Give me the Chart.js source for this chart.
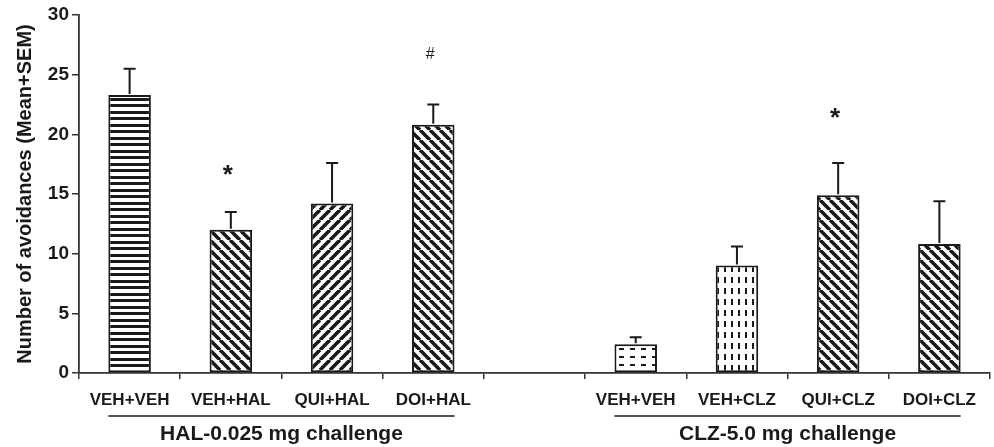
<!DOCTYPE html>
<html>
<head>
<meta charset="utf-8">
<script src="https://cdn.jsdelivr.net/npm/chart.js@4.4.1/dist/chart.umd.min.js"></script>
<style>
  body { margin: 0; background: #fff; }
  #wrap { width: 994px; height: 447px; }
</style>
</head>
<body>
<div id="wrap"><canvas id="chart"></canvas></div>
<script>
// values
var labels = ['VEH+VEH', 'VEH+HAL', 'QUI+HAL', 'DOI+HAL', '', 'VEH+VEH', 'VEH+CLZ', 'QUI+CLZ', 'DOI+CLZ'];
var means  = [23.3, 12.0, 14.2, 20.8, null, 2.4, 9.0, 14.9, 10.8];
var sem    = [2.2, 1.5, 3.4, 1.7, null, 0.6, 1.6, 2.7, 3.6];
var marks  = ['', '*', '', '#', '', '', '', '*', ''];
var markAt = [null, 16.9, null, 26.7, null, null, null, 21.7, null];
var fills  = ['hlines', 'back', 'fwd', 'back', null, 'hdash', 'vdash', 'back', 'back'];
var groupNames = ['HAL-0.025 mg challenge', 'CLZ-5.0 mg challenge'];
var groupFirst = [0, 5];
var groupLast  = [3, 8];

var INK = '#1a1a1a';
var FONT = "'Liberation Sans', Arial, Helvetica, sans-serif";

function makePattern(kind) {
  var t = document.createElement('canvas');
  var g;
  if (kind == 'hlines') {
    t.width = 8; t.height = 13;
    g = t.getContext('2d');
    g.fillStyle = '#fff'; g.fillRect(0, 0, t.width, t.height);
    g.fillStyle = INK; g.fillRect(0, 0, 8, 3); g.fillRect(0, 7, 8, 3);
  } else if (kind == 'back' || kind == 'fwd') {
    t.width = 10; t.height = 10;
    g = t.getContext('2d');
    g.fillStyle = '#fff'; g.fillRect(0, 0, 10, 10);
    g.strokeStyle = INK; g.lineWidth = 3.6;
    g.beginPath();
    for (var c = -10; c <= 10; c += 10) {
      if (kind == 'back') { g.moveTo(c, 0); g.lineTo(c + 10, 10); }
      else { g.moveTo(c + 10, 0); g.lineTo(c, 10); }
    }
    g.stroke();
  } else if (kind == 'hdash') {
    t.width = 11; t.height = 8;
    g = t.getContext('2d');
    g.fillStyle = '#fff'; g.fillRect(0, 0, 11, 8);
    g.fillStyle = INK; g.fillRect(3, 4, 5, 2);
  } else if (kind == 'vdash') {
    t.width = 7; t.height = 11;
    g = t.getContext('2d');
    g.fillStyle = '#fff'; g.fillRect(0, 0, 7, 11);
    g.fillStyle = INK; g.fillRect(3, 2, 2, 6);
  }
  return document.getElementById('chart').getContext('2d').createPattern(t, 'repeat');
}

var bg = fills.map(function (f) { return f ? makePattern(f) : '#fff'; });

// error bars, significance marks and group brackets
var extras = {
  id: 'extras',
  afterDatasetsDraw: function (chart) {
    var ctx = chart.ctx, y = chart.scales.y;
    var meta = chart.getDatasetMeta(0);
    ctx.save();
    ctx.strokeStyle = INK; ctx.lineWidth = 2;
    for (var i = 0; i < means.length; i++) {
      if (means[i] == null) continue;
      var bar = meta.data[i];
      var yTop = y.getPixelForValue(means[i] + sem[i]);
      ctx.beginPath();
      ctx.moveTo(bar.x, bar.y - 1); ctx.lineTo(bar.x, yTop);
      ctx.moveTo(bar.x - 6, yTop); ctx.lineTo(bar.x + 6, yTop);
      ctx.stroke();
      if (marks[i]) {
        ctx.fillStyle = INK;
        ctx.textAlign = 'center'; ctx.textBaseline = 'middle';
        ctx.font = marks[i] == '*' ? 'bold 26px ' + FONT : '16px ' + FONT;
        var off = marks[i] == '*' ? 5 : 0;
        ctx.fillText(marks[i], bar.x - 3, y.getPixelForValue(markAt[i]) + off);
      }
    }
    ctx.restore();
  },
  afterDraw: function (chart) {
    var ctx = chart.ctx;
    var meta = chart.getDatasetMeta(0);
    var lineY = chart.chartArea.bottom + 43;
    ctx.save();
    ctx.strokeStyle = INK; ctx.lineWidth = 1.5;
    ctx.fillStyle = INK;
    ctx.font = 'bold 21px ' + FONT;
    ctx.textAlign = 'center'; ctx.textBaseline = 'middle';
    for (var k = 0; k < groupNames.length; k++) {
      var a = meta.data[groupFirst[k]], b = meta.data[groupLast[k]];
      var x0 = a.x - a.width / 2, x1 = b.x + b.width / 2;
      ctx.beginPath();
      ctx.moveTo(x0, lineY); ctx.lineTo(x1, lineY);
      ctx.stroke();
      ctx.fillText(groupNames[k], (x0 + x1) / 2, lineY + 18);
    }
    ctx.restore();
  }
};

new Chart(document.getElementById('chart'), {
  type: 'bar',
  data: {
    labels: labels,
    datasets: [{
      data: means,
      backgroundColor: bg,
      borderColor: INK,
      borderWidth: 2,
      borderSkipped: false,
      categoryPercentage: 1,
      barPercentage: 0.42
    }]
  },
  options: {
    responsive: true,
    maintainAspectRatio: false,
    animation: false,
    layout: { padding: { top: 15, right: 4, left: 0, bottom: 0 } },
    plugins: { legend: { display: false }, tooltip: { enabled: false } },
    scales: {
      x: {
        offset: true,
        grid: { offset: true, drawOnChartArea: false, drawTicks: true, tickLength: 6, color: '#333', lineWidth: 1.5 },
        border: { color: '#333', width: 1.8 },
        ticks: { color: INK, font: { family: FONT, size: 17, weight: 'bold' }, padding: 11, maxRotation: 0, autoSkip: false },
        afterFit: function (s) { s.height = 74; }
      },
      y: {
        min: 0, max: 30,
        grid: { drawOnChartArea: false, drawTicks: true, tickLength: 7, color: '#333', lineWidth: 1.5 },
        border: { color: '#333', width: 1.8 },
        ticks: { stepSize: 5, color: INK, font: { family: FONT, size: 19, weight: 'bold' }, padding: 3 },
        title: { display: true, text: 'Number of avoidances (Mean+SEM)', color: INK,
                 font: { family: FONT, size: 20, weight: 'bold' }, padding: { top: 13, bottom: 0 } },
        afterFit: function (s) { s.width = 79; }
      }
    }
  },
  plugins: [extras]
});
</script>
</body>
</html>
